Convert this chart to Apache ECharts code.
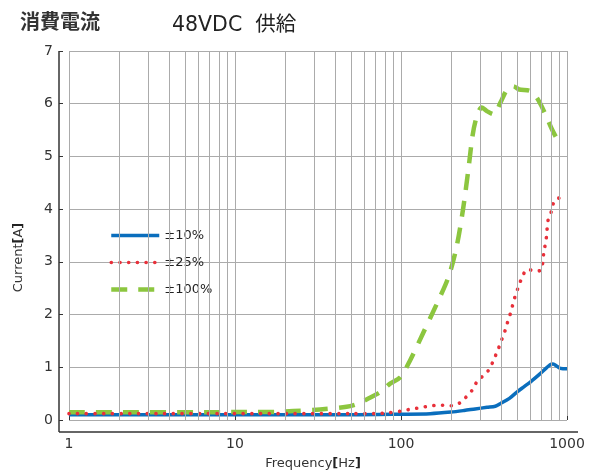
<!DOCTYPE html>
<html>
<head>
<meta charset="utf-8">
<script src="https://cdn.jsdelivr.net/npm/echarts@6/dist/echarts.min.js"></script>
<style>
  html, body { margin: 0; padding: 0; background: #fff; }
  #chart { width: 590px; height: 475px; }
</style>
</head>
<body>
<div id="chart"></div>
<script>
// Supply current vs. vibration frequency, 48VDC supply
const seriesNames = ['±10%', '±25%', '±100%'];

const freq10 = [1, 20, 50, 100, 150, 200, 240, 280, 330, 370, 396, 450, 499, 550, 601, 690, 793, 824, 870, 912, 1000];
const cur10  = [0.10, 0.10, 0.10, 0.11, 0.12, 0.15, 0.18, 0.21, 0.24, 0.26, 0.31, 0.41, 0.53, 0.63, 0.72, 0.88, 1.05, 1.06, 1.02, 0.98, 0.97];

const freq25 = [1, 20, 50, 70, 85, 101, 116, 129, 145, 165, 185, 205, 230, 249, 269, 286, 310, 336, 355, 372, 389, 405, 422, 436, 452, 467, 482, 501, 520, 543, 580, 646, 700, 712, 723, 751, 769, 802, 825, 883, 982, 1000];
const cur25  = [0.12, 0.12, 0.12, 0.12, 0.14, 0.17, 0.21, 0.23, 0.26, 0.28, 0.28, 0.27, 0.34, 0.45, 0.57, 0.72, 0.83, 0.94, 1.08, 1.23, 1.38, 1.53, 1.68, 1.83, 1.98, 2.14, 2.30, 2.46, 2.60, 2.75, 2.86, 2.82, 2.85, 2.95, 3.15, 3.46, 3.79, 3.94, 4.10, 4.21, 4.16, 4.15];

const freq100 = [1, 10, 18, 22.4, 32.5, 47, 55, 62, 75, 86, 99, 113, 136, 163, 193, 216, 237, 255, 270, 285, 306, 329, 362, 397, 436, 475, 515, 603, 677, 755, 810, 901];
const cur100  = [0.145, 0.15, 0.155, 0.17, 0.20, 0.25, 0.31, 0.39, 0.53, 0.69, 0.81, 1.12, 1.65, 2.18, 2.71, 3.28, 4.02, 4.77, 5.40, 5.74, 5.93, 5.86, 5.80, 6.02, 6.27, 6.33, 6.27, 6.24, 6.05, 5.74, 5.52, 5.24];

// Frequency / current axis ticks
const xMajorTicks = [1, 10, 100, 1000];
const xMinorTicks = [2, 3, 4, 5, 6, 7, 8, 9, 20, 30, 40, 50, 60, 70, 80, 90, 200, 300, 400, 500, 600, 700, 800, 900];
const yTicks = [0, 1, 2, 3, 4, 5, 6, 7];

const pairs = (xs, ys) => xs.map((x, i) => [x, ys[i]]);

const gridColor = '#ababab';
const textColor = '#333';
const latinFont = 'DejaVu Sans, Noto Sans CJK JP, sans-serif';

// Line styles shared by each series and its legend entry
const style10 = { color: '#0a6ebd', width: 3.5, type: 'solid' };
const style25 = { color: '#e8303a', width: 3.6, type: [0.1, 8.6], cap: 'round' };
const style100 = { color: '#8cc63f', width: 4.5, type: [16, 11], cap: 'butt' };

const bracketRich = {
  b: { fontFamily: latinFont, fontSize: 13, fontWeight: 'bold', color: '#222' }
};

const chart = echarts.init(document.getElementById('chart'), null, { renderer: 'canvas' });

chart.setOption({
  animation: false,
  backgroundColor: '#fff',
  title: [
    {
      text: '消費電流', left: 20, top: 11, padding: 0,
      textStyle: { fontFamily: 'Noto Sans CJK JP', fontSize: 20, fontWeight: 'bold', color: textColor }
    },
    {
      text: '48VDC  供給', left: 172, top: 15, padding: 0,
      textStyle: { fontFamily: latinFont, fontSize: 20.5, fontWeight: 'normal', color: '#222' }
    }
  ],
  legend: {
    orient: 'vertical',
    left: 109, top: 229, padding: 0,
    itemWidth: 48, itemHeight: 14, itemGap: 14,
    itemStyle: { opacity: 0 },
    data: [
      { name: seriesNames[0], lineStyle: style10 },
      { name: seriesNames[1], lineStyle: style25 },
      { name: seriesNames[2], lineStyle: style100 }
    ],
    textStyle: { fontFamily: latinFont, fontSize: 13, color: '#222' },
    selectedMode: false
  },
  grid: { left: 69, right: 23, top: 51, bottom: 50, show: false },
  xAxis: {
    type: 'log', logBase: 10, min: xMajorTicks[0], max: xMajorTicks[xMajorTicks.length - 1],
    offset: 12,
    name: 'Frequency{b|[}Hz{b|]}', nameLocation: 'middle', nameGap: 25,
    nameTextStyle: { fontFamily: latinFont, fontSize: 13, color: textColor, rich: bracketRich, padding: [0, 10, 0, 0] },
    axisLine: { show: false },
    axisTick: { show: true, inside: true, length: 4, lineStyle: { color: '#333', width: 1 } },
    axisLabel: { fontFamily: latinFont, fontSize: 14, color: textColor, margin: 5, formatter: v => String(v) },
    splitLine: { show: true, lineStyle: { color: gridColor, width: 1 } },
    minorTick: { show: false }
  },
  yAxis: {
    type: 'value', min: yTicks[0], max: yTicks[yTicks.length - 1], interval: 1,
    offset: 10,
    name: 'Current{b|[}A{b|]}', nameLocation: 'middle', nameGap: 34, nameRotate: 90,
    nameTextStyle: { fontFamily: latinFont, fontSize: 13, color: textColor, rich: bracketRich, padding: [0, 44, 0, 0] },
    axisLine: { show: false },
    axisTick: { show: true, inside: true, length: 4, lineStyle: { color: '#333', width: 1 } },
    axisLabel: { fontFamily: latinFont, fontSize: 14, color: textColor, margin: 6 },
    splitLine: { show: true, lineStyle: { color: gridColor, width: 1 } }
  },
  series: [
    {
      name: 'minor-grid', type: 'line', data: [], silent: true, z: 1,
      markLine: {
        silent: true, symbol: ['none', 'none'], animation: false,
        label: { show: false },
        lineStyle: { color: gridColor, width: 1, type: 'solid' },
        emphasis: { disabled: true },
        data: xMinorTicks.map(v => ({ xAxis: v }))
      }
    },
    {
      name: seriesNames[2], type: 'line', data: pairs(freq100, cur100), z: 3,
      symbol: 'none', smooth: 0.3,
      lineStyle: style100,
      itemStyle: { color: style100.color }
    },
    {
      name: seriesNames[1], type: 'line', data: pairs(freq25, cur25), z: 4,
      symbol: 'none', smooth: 0.3,
      lineStyle: style25,
      itemStyle: { color: style25.color }
    },
    {
      name: seriesNames[0], type: 'line', data: pairs(freq10, cur10), z: 2,
      symbol: 'none', smooth: 0.3,
      lineStyle: style10,
      itemStyle: { color: style10.color }
    }
  ]
});

// Axis lines stand off from the plot area and run slightly past it
const pLow = chart.convertToPixel({ gridIndex: 0 }, [xMajorTicks[0], yTicks[0]]);
const pHigh = chart.convertToPixel({ gridIndex: 0 }, [xMajorTicks[xMajorTicks.length - 1], yTicks[yTicks.length - 1]]);
const axisX = pLow[0] - 10;
const axisY = pLow[1] + 12;
chart.setOption({
  graphic: [
    { type: 'line', silent: true, z: 10,
      shape: { x1: axisX, y1: pHigh[1], x2: axisX, y2: axisY },
      style: { stroke: '#333', lineWidth: 1.5 } },
    { type: 'line', silent: true, z: 10,
      shape: { x1: axisX, y1: axisY, x2: pHigh[0] + 11, y2: axisY },
      style: { stroke: '#333', lineWidth: 1.5 } }
  ]
});
</script>
</body>
</html>
